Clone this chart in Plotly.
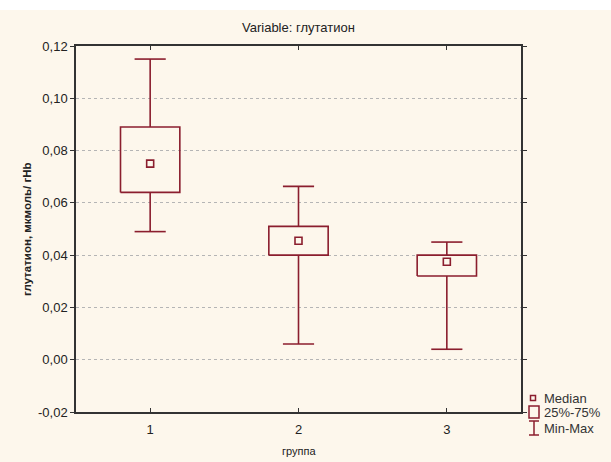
import plotly.graph_objects as go

groups = [1, 2, 3]
mins = [0.049, 0.006, 0.004]
q1s = [0.064, 0.040, 0.032]
medians = [0.075, 0.0455, 0.0375]
q3s = [0.089, 0.051, 0.040]
maxs = [0.115, 0.0663, 0.045]
y_ticks = [-0.02, 0.00, 0.02, 0.04, 0.06, 0.08, 0.10, 0.12]
y_tick_text = ["-0,02", "0,00", "0,02", "0,04", "0,06", "0,08", "0,10", "0,12"]

C = "#8B1E2E"
BW = 0.2   # half box width (x units)
CW = 0.105 # half cap width

fig = go.Figure()

for g, lo, a, m, b, hi in zip(groups, mins, q1s, medians, q3s, maxs):
    fig.add_trace(go.Scatter(x=[g - BW, g + BW, g + BW, g - BW, g - BW],
                             y=[a, a, b, b, a], mode="lines",
                             line=dict(color=C, width=1.6), showlegend=False, hoverinfo="skip"))
    fig.add_trace(go.Scatter(
        x=[g, g, None, g, g, None, g - CW, g + CW, None, g - CW, g + CW],
        y=[b, hi, None, a, lo, None, hi, hi, None, lo, lo], mode="lines",
        line=dict(color=C, width=1.6), showlegend=False, hoverinfo="skip"))

fig.add_trace(go.Scatter(x=groups, y=medians, mode="markers",
                         marker=dict(symbol="square-open", size=7, color=C, line=dict(width=1.6, color=C)),
                         showlegend=False))

L, R, T, B = 76, 521, 46, 412
def px(x):
    return (x - L) / (R - L)
def py(y):
    return (B - y) / (B - T)

shapes = [
    dict(type="rect", xref="paper", yref="paper", x0=-L / (R - L), x1=(611 - L) / (R - L),
         y0=py(462), y1=py(10), fillcolor="#FDF7EC", line=dict(width=0), layer="below"),
    dict(type="rect", xref="paper", yref="paper", x0=px(530.5), x1=px(535.5), y0=py(400.5), y1=py(395.5),
         line=dict(color=C, width=1.5)),
    dict(type="rect", xref="paper", yref="paper", x0=px(529), x1=px(539), y0=py(418), y1=py(406),
         line=dict(color=C, width=1.5)),
    dict(type="line", xref="paper", yref="paper", x0=px(534), x1=px(534), y0=py(435), y1=py(421),
         line=dict(color=C, width=1.5)),
    dict(type="line", xref="paper", yref="paper", x0=px(529), x1=px(539), y0=py(421), y1=py(421),
         line=dict(color=C, width=1.5)),
    dict(type="line", xref="paper", yref="paper", x0=px(529), x1=px(539), y0=py(435), y1=py(435),
         line=dict(color=C, width=1.5)),
]
anns = []
for txt, yy in [("Median", 398), ("25%-75%", 413), ("Min-Max", 428)]:
    anns.append(dict(text=txt, xref="paper", yref="paper", x=px(542), y=py(yy), xanchor="left",
                     yanchor="middle", showarrow=False, font=dict(size=13, color="#333")))
anns.append(dict(text="Variable: глутатион", xref="paper", yref="paper", x=0.5, y=py(28),
                 xanchor="center", yanchor="middle", showarrow=False, font=dict(size=13, color="#222")))
anns.append(dict(text="группа", xref="paper", yref="paper", x=0.5, y=py(451),
                 xanchor="center", yanchor="middle", showarrow=False, font=dict(size=11, color="#222")))
anns.append(dict(text="<b>глутатион, мкмоль/ гHb</b>", xref="paper", yref="paper", x=px(27), y=py(229),
                 xanchor="center", yanchor="middle", textangle=-90, showarrow=False,
                 font=dict(size=11.5, color="#222")))

fig.update_layout(
    width=611, height=462,
    margin=dict(l=L, r=611 - R, t=T, b=462 - B),
    paper_bgcolor="white", plot_bgcolor="white",
    font=dict(family="Liberation Sans, Arial, sans-serif", size=13, color="#222"),
    shapes=shapes, annotations=anns,
    showlegend=False,
)
fig.update_xaxes(range=[0.5, 3.5], tickvals=groups, ticktext=[str(g) for g in groups],
                 ticks="inside", ticklen=4, tickcolor="#333", showline=True, linecolor="#333",
                 linewidth=1.5, mirror="ticks", showgrid=False, zeroline=False,
                 ticklabelstandoff=5, automargin=False)
fig.update_yaxes(range=[-0.02, 0.12], tickvals=y_ticks, ticktext=y_tick_text,
                 ticks="outside", ticklen=4, tickcolor="#333", showline=True, linecolor="#333",
                 linewidth=1.5, mirror="ticks", showgrid=True, gridcolor="#b5b5b5", griddash="dot",
                 gridwidth=1, zeroline=False, automargin=False)

fig.write_html("out.html")
